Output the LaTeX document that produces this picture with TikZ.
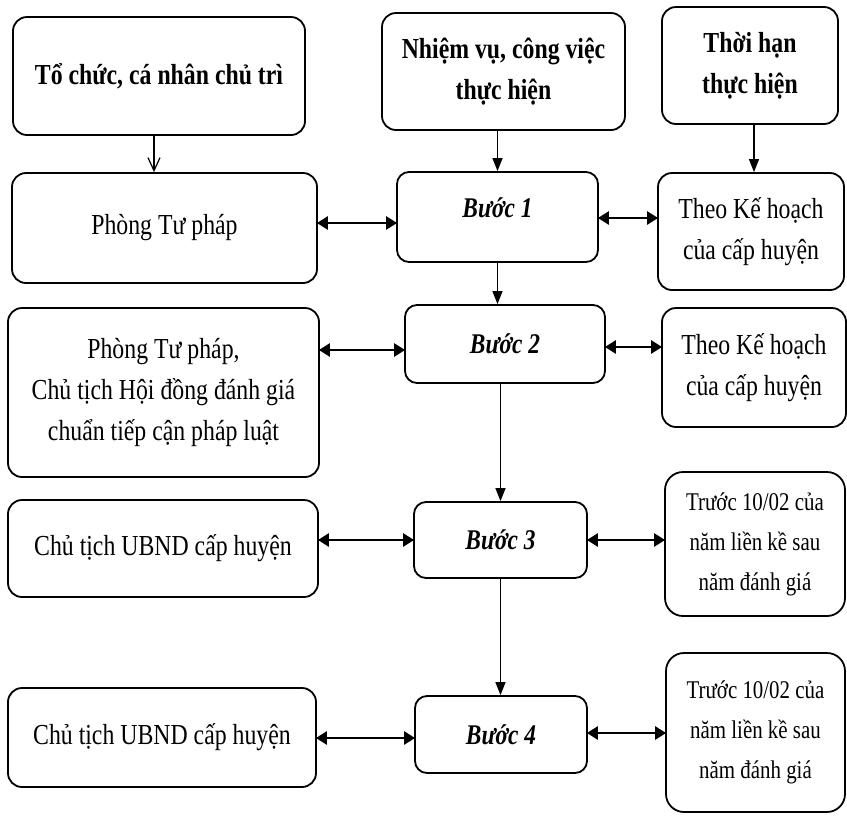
\documentclass[tikz,border=0pt]{standalone}
\usepackage{fontspec}
\setmainfont{Liberation Serif}[FakeStretch=0.82]
\usetikzlibrary{arrows.meta,calc}
\begin{document}
\begin{tikzpicture}[x=1pt,y=-1pt,
  box/.style={draw, line width=1.8pt, rounded corners=14pt, align=center, inner sep=0pt,
    font=\fontsize{29}{41}\selectfont},
  headbox/.style={box, font=\fontsize{29}{41}\selectfont\bfseries},
  stepbox/.style={box, rounded corners=12pt, font=\fontsize{28.5}{41}\selectfont\bfseries\itshape},
  timebox/.style={box, rounded corners=18pt, font=\fontsize{25.5}{40}\selectfont},
  down/.style={line width=1.4pt, -{Triangle[width=10pt,length=13pt]}},
  opendown/.style={line width=1.2pt, -{Straight Barb[width=12pt,length=13pt,line width=1.2pt]}},
  both/.style={line width=2.6pt, {Triangle[width=13pt,length=11pt]}-{Triangle[width=13pt,length=11pt]}, shorten <=-1pt, shorten >=-1pt}
]
\useasboundingbox (0,0) rectangle (847,815);

% header row
\node[headbox, minimum width=292pt, minimum height=118pt] (A) at (159,76) {Tổ chức, cá nhân chủ trì};
\node[headbox, minimum width=243pt, minimum height=117pt] (B) at (503.5,71.5) {Nhiệm vụ, công việc\\thực hiện};
\node[headbox, minimum width=176pt, minimum height=117pt] (C) at (750,65.5) {Thời hạn\\thực hiện};

% row 1
\node[box, minimum width=305pt, minimum height=110pt] (P1) at (164.5,228) {Phòng Tư pháp};
\node[stepbox, minimum width=201pt, minimum height=90pt] (S1) at (497.5,217) {\raisebox{0pt}[0pt][0pt]{Bước 1}};
\node[box, minimum width=186pt, minimum height=117pt] (T1) at (751,231.5) {Theo Kế hoạch\\của cấp huyện};

% row 2
\node[box, minimum width=311pt, minimum height=169pt] (P2) at (163.5,392.5) {Phòng Tư pháp,\\Chủ tịch Hội đồng đánh giá\\chuẩn tiếp cận pháp luật};
\node[stepbox, minimum width=200pt, minimum height=78pt] (S2) at (505,344) {Bước 2};
\node[box, minimum width=184pt, minimum height=119pt] (T2) at (754,367.5) {Theo Kế hoạch\\của cấp huyện};

% row 3
\node[box, minimum width=310pt, minimum height=97pt] (P3) at (163,548.5) {Chủ tịch UBND cấp huyện};
\node[stepbox, minimum width=173pt, minimum height=76pt] (S3) at (500.5,540) {Bước 3};
\node[timebox, minimum width=180pt, minimum height=144pt] (T3) at (755,544) {Trước 10/02 của\\năm liền kề sau\\năm đánh giá};

% row 4
\node[box, minimum width=308pt, minimum height=99pt] (P4) at (162,737.5) {Chủ tịch UBND cấp huyện};
\node[stepbox, minimum width=172pt, minimum height=77pt] (S4) at (501,734.5) {Bước 4};
\node[timebox, minimum width=179pt, minimum height=159pt] (T4) at (755.5,732.5) {Trước 10/02 của\\năm liền kề sau\\năm đánh giá};

% vertical arrows
\draw[opendown] ([xshift=-5pt]A.south) -- ([xshift=-5pt]A.south |- P1.north);
\draw[down] (B.south -| S1.north) -- (S1.north);
\draw[down] ([xshift=4pt]C.south) -- ([xshift=4pt]C.south |- T1.north);
\draw[down] (S1.south) -- (S1.south |- S2.north);
\draw[down] (S2.south -| S3.north) -- (S3.north);
\draw[down] (S3.south) -- (S3.south |- S4.north);

% horizontal helper levels
\coordinate (l1) at (0,223);
\coordinate (r1) at (0,218);
\coordinate (l2) at (0,350);
\coordinate (r2) at (0,347);
\coordinate (l3) at (0,540);
\coordinate (r3) at (0,540);
\coordinate (l4) at (0,738);
\coordinate (r4) at (0,733);

% double arrows
\draw[both] (P1.east |- l1) -- (S1.west |- l1);
\draw[both] (S1.east |- r1) -- (T1.west |- r1);
\draw[both] (P2.east |- l2) -- (S2.west |- l2);
\draw[both] (S2.east |- r2) -- (T2.west |- r2);
\draw[both] (P3.east |- l3) -- (S3.west |- l3);
\draw[both] (S3.east |- r3) -- (T3.west |- r3);
\draw[both] (P4.east |- l4) -- (S4.west |- l4);
\draw[both] (S4.east |- r4) -- (T4.west |- r4);
\end{tikzpicture}
\end{document}
